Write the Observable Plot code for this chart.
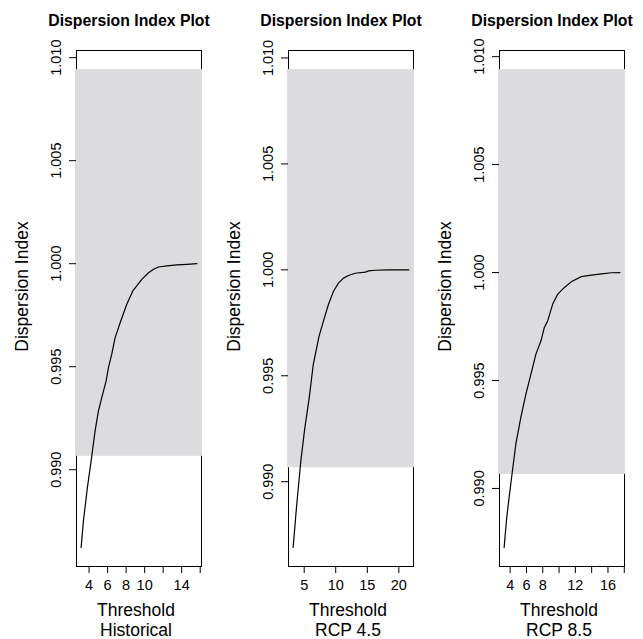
<!DOCTYPE html>
<html>
<head>
<meta charset="utf-8">
<script src="https://cdn.jsdelivr.net/npm/d3@7"></script>
<script src="https://cdn.jsdelivr.net/npm/@observablehq/plot@0.6"></script>
<style>
  body { margin: 0; background: white; }
  #wrap { position: relative; width: 643px; height: 639px; background: white; }
  #wrap svg { position: absolute; top: 0; }
</style>
</head>
<body>
<div id="wrap"></div>
<script>
const mainTitle = "Dispersion Index Plot";
const yTitle = "Dispersion Index";
const xTitle = "Threshold";
const scenarios = ["Historical", "RCP 4.5", "RCP 8.5"];

const histX = [3.14,3.39,3.82,4.22,4.65,5.01,5.37,5.84,6.09,6.45,6.81,7.06,7.42,8.07,8.72,9.15,9.69,10.42,10.96,11.50,12.40,13.48,14.56,15.64];
const histY = [0.98623,0.98753,0.98914,0.99043,0.99189,0.99286,0.99350,0.99431,0.99496,0.99561,0.99641,0.99674,0.99722,0.99803,0.99868,0.99892,0.99924,0.99956,0.99973,0.99984,0.99989,0.99994,0.99997,1.00000];

const rcp45X = [3.25,3.78,4.47,5.11,5.80,6.44,7.35,8.04,8.83,9.63,10.43,11.22,12.02,13.08,14.68,15.21,16.28,18.40,21.59];
const rcp45Y = [0.98690,0.98878,0.99098,0.99255,0.99396,0.99553,0.99686,0.99757,0.99835,0.99898,0.99937,0.99961,0.99973,0.99984,0.99989,0.99995,0.99998,1.00000,1.00000];

const rcp85X = [3.26,3.58,3.87,4.28,4.70,5.31,5.93,6.55,7.16,7.78,8.19,8.60,9.22,9.84,10.66,11.49,12.72,13.96,15.19,16.43,17.46];
const rcp85Y = [0.98727,0.98866,0.98958,0.99082,0.99206,0.99329,0.99437,0.99530,0.99622,0.99684,0.99745,0.99776,0.99854,0.99900,0.99931,0.99957,0.99981,0.99988,0.99994,0.99999,1.00000];

const histBand = [0.99065, 1.00942];
const rcp45Band = [0.99066, 1.00945];
const rcp85Band = [0.99065, 1.00940];

const yTicks = [0.990, 0.995, 1.000, 1.005, 1.010];
const histXTicks = [4, 6, 8, 10, 12, 14, 16];
const histXLabels = [4, 6, 8, 10, 14];
const rcp45XTicks = [5, 10, 15, 20];
const rcp45XLabels = [5, 10, 15, 20];
const rcp85XTicks = [4, 6, 8, 10, 12, 14, 16, 18];
const rcp85XLabels = [4, 6, 8, 12, 16];

const panelLeft = [0, 211.5, 423];
const font = "'Liberation Sans', Arial, Helvetica, sans-serif";

function panel(xs, ys, band, xTicks, xLabels, sub) {
  const data = xs.map((x, i) => ({x, y: ys[i]}));
  const xe = d3.extent(xs);
  const xp = (xe[1] - xe[0]) * 0.04;
  const ylo = d3.min(ys), yhi = band[1];
  const yp = (yhi - ylo) * 0.04;
  const xd = [xe[0] - xp, xe[1] + xp];
  return Plot.plot({
    width: 214, height: 639,
    marginLeft: 76, marginRight: 13, marginTop: 50, marginBottom: 73,
    x: {domain: xd, label: null},
    y: {domain: [ylo - yp, yhi + yp], label: null},
    style: {fontFamily: font, background: "white", color: "black"},
    marks: [
      Plot.frame({stroke: "black", strokeWidth: 1}),
      Plot.rect([band], {x1: () => xd[0], x2: () => xd[1], y1: d => d[0], y2: d => d[1], fill: "#dcdcde", insetLeft: -1, insetRight: -1}),
      Plot.line(data, {x: "x", y: "y", stroke: "black", strokeWidth: 1.2}),
      Plot.axisX({ticks: xTicks, tickSize: 7, tickFormat: () => "", label: null, stroke: "black"}),
      Plot.axisY({ticks: yTicks, tickSize: 7, tickFormat: () => "", label: null, stroke: "black"}),
      Plot.text(xLabels, {x: d => d, text: d => String(d), frameAnchor: "bottom", dy: 23, lineAnchor: "bottom", fontSize: 14.5, fill: "black"}),
      Plot.text(yTicks, {y: d => d, text: d => d3.format(".3f")(d), frameAnchor: "left", dx: -16, rotate: -90, lineAnchor: "bottom", textAnchor: "middle", fontSize: 14.5, fill: "black"}),
      Plot.text([mainTitle], {text: d => d, frameAnchor: "top", dx: -10, dy: -25, lineAnchor: "bottom", fontWeight: "bold", fontSize: 15.8, fill: "black"}),
      Plot.text([yTitle], {text: d => d, frameAnchor: "left", dx: -48.5, dy: -22, rotate: -90, lineAnchor: "bottom", textAnchor: "middle", fontSize: 17.5, fill: "black"}),
      Plot.text([xTitle], {text: d => d, frameAnchor: "bottom", dx: -3, dy: 49, lineAnchor: "bottom", fontSize: 17.5, fill: "black"}),
      Plot.text([sub], {text: d => d, frameAnchor: "bottom", dx: -3, dy: 69, lineAnchor: "bottom", fontSize: 17.5, fill: "black"})
    ]
  });
}

const wrap = document.getElementById("wrap");
const panels = [
  panel(histX, histY, histBand, histXTicks, histXLabels, scenarios[0]),
  panel(rcp45X, rcp45Y, rcp45Band, rcp45XTicks, rcp45XLabels, scenarios[1]),
  panel(rcp85X, rcp85Y, rcp85Band, rcp85XTicks, rcp85XLabels, scenarios[2])
];
panels.forEach((p, i) => { p.style.left = panelLeft[i] + "px"; wrap.appendChild(p); });
</script>
</body>
</html>
